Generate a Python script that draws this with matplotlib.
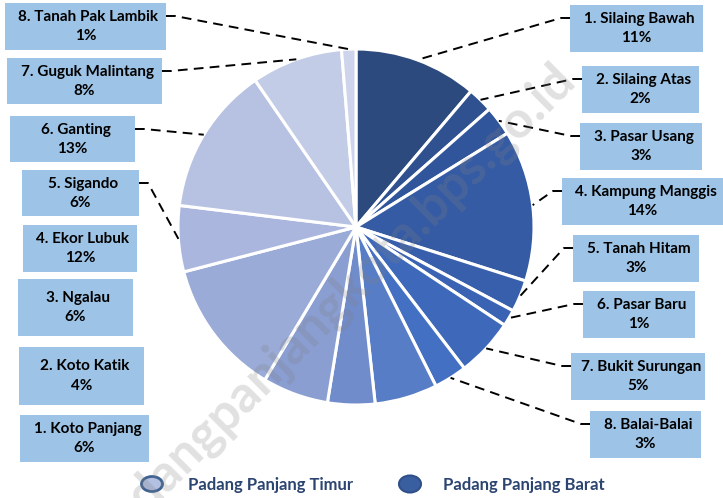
import matplotlib.pyplot as plt
from matplotlib.patches import Rectangle, Ellipse
import numpy as np

plt.rcParams['font.family'] = ['Lato', 'DejaVu Sans']

# Padang Panjang Barat, clockwise from the top of the pie
barat_names = ['Silaing Bawah', 'Silaing Atas', 'Pasar Usang', 'Kampung Manggis',
               'Tanah Hitam', 'Pasar Baru', 'Bukit Surungan', 'Balai-Balai']
barat_share = [11.2, 2.3, 2.7, 13.75, 2.9, 1.5, 5.3, 3.0]
barat_pct = [11, 2, 3, 14, 3, 1, 5, 3]
barat_colors = ['#2c4a7e', '#2f5190', '#31559b', '#355ba4',
                '#375fac', '#3a63b3', '#3e69ba', '#4370c2']

# Padang Panjang Timur, continuing clockwise
timur_names = ['Koto Panjang', 'Koto Katik', 'Ngalau', 'Ekor Lubuk',
               'Sigando', 'Ganting', 'Guguk Malintang', 'Tanah Pak Lambik']
timur_share = [5.7, 4.3, 6.0, 12.4, 6.0, 13.5, 8.3, 1.3]
timur_pct = [6, 4, 6, 12, 6, 13, 8, 1]
timur_colors = ['#587dc7', '#718ccb', '#8a9ed2', '#9aabd7',
                '#aab6dd', '#b7c2e2', '#c3cce7', '#cdd4eb']

W, H = 723, 498
cx, cy, R = 356, H - 227, 178

# label boxes (left, top, width, height) in pixels from the top-left corner
barat_boxes = [(570, 5, 133, 47), (582, 66, 117, 47), (580, 123, 122, 47),
               (562, 178, 161, 47), (573, 235, 126, 47), (583, 291, 112, 47),
               (571, 353, 134, 47), (590, 411, 111, 47)]
timur_boxes = [(20, 415, 129, 47), (19, 347, 125, 58), (18, 279, 115, 57),
               (23, 225, 114, 47), (22, 170, 117, 46), (10, 116, 125, 46),
               (7, 58, 155, 46), (5, 3, 161, 47)]
timur_leader = [False, False, False, False, True, True, True, True]

fig = plt.figure(figsize=(W / 100, H / 100), dpi=100)
ax = fig.add_axes([0, 0, 1, 1])

wedges, _ = ax.pie(barat_share + timur_share, colors=barat_colors + timur_colors,
                   startangle=90, counterclock=False, center=(cx, cy), radius=R,
                   wedgeprops=dict(edgecolor='white', linewidth=2.2))
ax.set_xlim(0, W)
ax.set_ylim(0, H)
ax.set_aspect('equal')
ax.axis('off')


def edge_point(w):
    a = np.deg2rad((w.theta1 + w.theta2) / 2)
    return cx + R * np.cos(a), cy + R * np.sin(a)


def label(box, name, pct, wedge, side, leader=True):
    x0, top, bw, bh = box
    y0 = H - top - bh
    ax.add_patch(Rectangle((x0, y0), bw, bh, facecolor='#9dc3e6',
                           edgecolor='none', zorder=3))
    mid = y0 + bh / 2
    ax.text(x0 + bw / 2 + 3, mid + 9.5, name, ha='center', va='center',
            fontsize=11, fontweight='bold', color='black', zorder=4)
    ax.text(x0 + bw / 2, mid - 9.5, '%d%%' % pct, ha='center', va='center',
            fontsize=11, fontweight='bold', color='black', zorder=4)
    if not leader:
        return
    ly = H - top - 13
    if side == 'right':
        xs = [x0, x0 - 9]
    else:
        xs = [x0 + bw, x0 + bw + 9]
    px, py = edge_point(wedge)
    ax.plot(xs + [px], [ly, ly, py], color='black', lw=1.4,
            linestyle=(0, (5, 3.2)), zorder=2)


for i in range(8):
    label(barat_boxes[i], '%d. %s' % (i + 1, barat_names[i]), barat_pct[i],
          wedges[i], 'right')
    label(timur_boxes[i], '%d. %s' % (i + 1, timur_names[i]), timur_pct[i],
          wedges[8 + i], 'left', timur_leader[i])

# legend
ax.add_patch(Ellipse((152, H - 484), 21, 15, facecolor='#b4c0e2',
                     edgecolor='#3f6391', linewidth=2))
ax.text(188, H - 485, 'Padang Panjang Timur', ha='left', va='center',
        fontsize=12, fontweight='bold', color='#2c4470')
ax.add_patch(Ellipse((410, H - 484), 22, 17, facecolor='#3a5fa0',
                     edgecolor='#2f4f88', linewidth=1.5))
ax.text(443, H - 485, 'Padang Panjang Barat', ha='left', va='center',
        fontsize=12, fontweight='bold', color='#2c4470')

# watermark (cut off at the bottom edge, as in the source)
ax.text(332, H - 306, 'padangpanjangkota.bps.go.id', ha='center', va='center',
        rotation=45, rotation_mode='anchor', fontsize=37, fontweight='bold',
        color='#808080', alpha=0.24, zorder=5)

fig.savefig('out.png', dpi=100)
